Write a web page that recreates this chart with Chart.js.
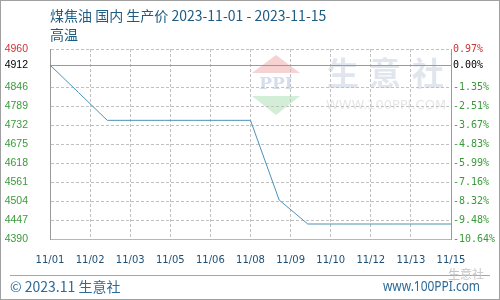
<!DOCTYPE html>
<html>
<head>
<meta charset="utf-8">
<script src="https://cdn.jsdelivr.net/npm/chart.js@4/dist/chart.umd.min.js"></script>
<style>
  html, body { margin: 0; padding: 0; background: #fff; }
  #wrap { width: 500px; height: 300px; position: relative; }
</style>
</head>
<body>
<div id="wrap"><canvas id="chart" width="500" height="300"></canvas></div>
<script>
// --- Data ---
var days = [1, 2, 3, 4, 5, 6, 7, 8, 9, 10, 11, 12, 13, 14, 15];
var prices = [4912, 4829, 4746, 4746, 4746, 4746, 4746, 4746, 4507, 4435, 4435, 4435, 4435, 4435, 4435];

var xTickPos = [1, 2.4, 3.8, 5.2, 6.6, 8, 9.4, 10.8, 12.2, 13.6, 15];
var xTickLabels = ['11/01', '11/02', '11/03', '11/05', '11/06', '11/08', '11/09', '11/10', '11/12', '11/13', '11/15'];

var yTicks = [4960, 4912, 4846, 4789, 4732, 4675, 4618, 4561, 4504, 4447, 4390];
var pctLabels = ['0.97%', '0.00%', '-1.35%', '-2.51%', '-3.67%', '-4.83%', '-5.99%', '-7.16%', '-8.32%', '-9.48%', '-10.64%'];

var BASE = 4912;
var TOP = 4960;

var TITLE_1 = '煤焦油 国内 生产价 2023-11-01 - 2023-11-15';
var TITLE_2 = '高温';

var GRID = '#c0c0c0';
var AXIS = '#9a9a9a';

// --- Helpers ---
function tickColor(v) {
  if (v === TOP) return '#cc3333';
  if (v === BASE) return '#000000';
  return '#3a9a3a';
}

function setTicks(values) {
  return function (scale) {
    scale.ticks = values.map(function (v) { return { value: v }; });
  };
}

// --- Decorations: background, watermark, title, footer ---
var decor = {
  id: 'decor',
  beforeDraw: function (chart) {
    var c = chart.ctx;
    c.save();
    c.fillStyle = '#ffffff';
    c.fillRect(0, 0, chart.width, chart.height);

    // PPI logo watermark
    c.fillStyle = '#f6d2d2';
    c.beginPath();
    c.moveTo(276, 55); c.lineTo(300, 73); c.lineTo(252, 73); c.closePath();
    c.fill();
    c.fillStyle = '#d2eed6';
    c.beginPath();
    c.moveTo(252, 96); c.lineTo(300, 96); c.lineTo(276, 115); c.closePath();
    c.fill();
    c.fillStyle = '#d6deec';
    c.font = 'bold 17px "DejaVu Serif"';
    c.textAlign = 'center';
    c.textBaseline = 'middle';
    c.fillText('PPI', 276, 85);

    c.fillStyle = '#e1e6ee';
    c.font = 'bold 32px "Noto Sans CJK SC"';
    c.fillText('生', 343, 73);
    c.fillText('意', 385, 73);
    c.fillText('社', 428, 73);
    c.fillStyle = '#e6e6e6';
    c.font = '13px "DejaVu Sans"';
    c.fillText('WWW.100PPI.COM', 386, 106, 122);
    c.restore();
  },
  afterDraw: function (chart) {
    var c = chart.ctx;
    c.save();
    // title
    c.fillStyle = '#1e5b82';
    c.font = '14px "Noto Sans CJK SC"';
    c.textAlign = 'left';
    c.textBaseline = 'middle';
    c.fillText(TITLE_1, 50, 16);
    c.fillText(TITLE_2, 50, 35);

    // footer
    c.strokeStyle = '#a6a6a6';
    c.lineWidth = 1;
    c.setLineDash([]);
    c.beginPath();
    c.moveTo(10, 275.5); c.lineTo(490, 275.5);
    c.stroke();

    c.fillStyle = '#c4c4c4';
    c.font = '12px "Noto Sans CJK SC"';
    c.fillText('生意社', 448, 274);

    c.fillStyle = '#2c6a98';
    c.font = '14px "Noto Sans CJK SC"';
    c.fillText('© 2023.11 生意社', 10, 287);
    c.textAlign = 'right';
    c.font = '15px "Noto Sans"';
    c.fillText('www.100PPI.com', 480, 287, 97);

    // outer frame
    c.strokeStyle = '#a0a0a0';
    c.strokeRect(0.5, 0.5, chart.width - 1, chart.height - 1);
    c.restore();
  }
};

// --- Chart ---
var points = days.map(function (d, i) { return { x: d, y: prices[i] }; });

new Chart(document.getElementById('chart'), {
  type: 'line',
  data: {
    datasets: [{
      data: points,
      borderColor: '#4a93b8',
      borderWidth: 1,
      pointRadius: 0,
      tension: 0,
      fill: false,
      yAxisID: 'y'
    }]
  },
  options: {
    responsive: false,
    animation: false,
    events: [],
    layout: { padding: { top: 49, left: 0, right: 0, bottom: 0 } },
    plugins: { legend: { display: false }, tooltip: { enabled: false } },
    scales: {
      x: {
        type: 'linear',
        min: 1,
        max: 15,
        afterBuildTicks: setTicks(xTickPos),
        afterFit: function (s) { s.height = 61; },
        grid: { color: GRID, lineWidth: 1, drawTicks: false },
        border: { color: '#a9b9c6', dash: [3, 2] },
        ticks: {
          padding: 15,
          color: '#1f4f75',
          font: { family: 'DejaVu Sans', size: 10 },
          maxRotation: 0,
          autoSkip: false,
          callback: function (v) { return xTickLabels[xTickPos.indexOf(v)]; }
        }
      },
      y: {
        position: 'left',
        min: 4390,
        max: 4960,
        afterBuildTicks: setTicks(yTicks.slice().reverse()),
        afterFit: function (s) { s.width = 50; },
        grid: {
          drawTicks: false,
          lineWidth: 1,
          color: function (ctx) { return ctx.tick && ctx.tick.value === BASE ? AXIS : GRID; }
        },
        border: {
          color: AXIS,
          dash: function (ctx) { return ctx.tick && ctx.tick.value !== BASE ? [3, 2] : []; }
        },
        ticks: {
          padding: 22,
          autoSkip: false,
          font: { family: 'Liberation Sans', size: 10.5 },
          color: function (ctx) { return tickColor(ctx.tick.value); },
          callback: function (v) { return String(v); }
        }
      },
      y2: {
        position: 'right',
        min: 4390,
        max: 4960,
        afterBuildTicks: setTicks(yTicks.slice().reverse()),
        afterFit: function (s) { s.width = 49; },
        grid: { drawOnChartArea: false, drawTicks: false },
        border: { color: AXIS },
        ticks: {
          padding: 2,
          autoSkip: false,
          font: { family: 'DejaVu Sans Mono', size: 10 },
          color: function (ctx) { return tickColor(ctx.tick.value); },
          callback: function (v) { return pctLabels[yTicks.indexOf(v)]; }
        }
      }
    }
  },
  plugins: [decor]
});
</script>
</body>
</html>
